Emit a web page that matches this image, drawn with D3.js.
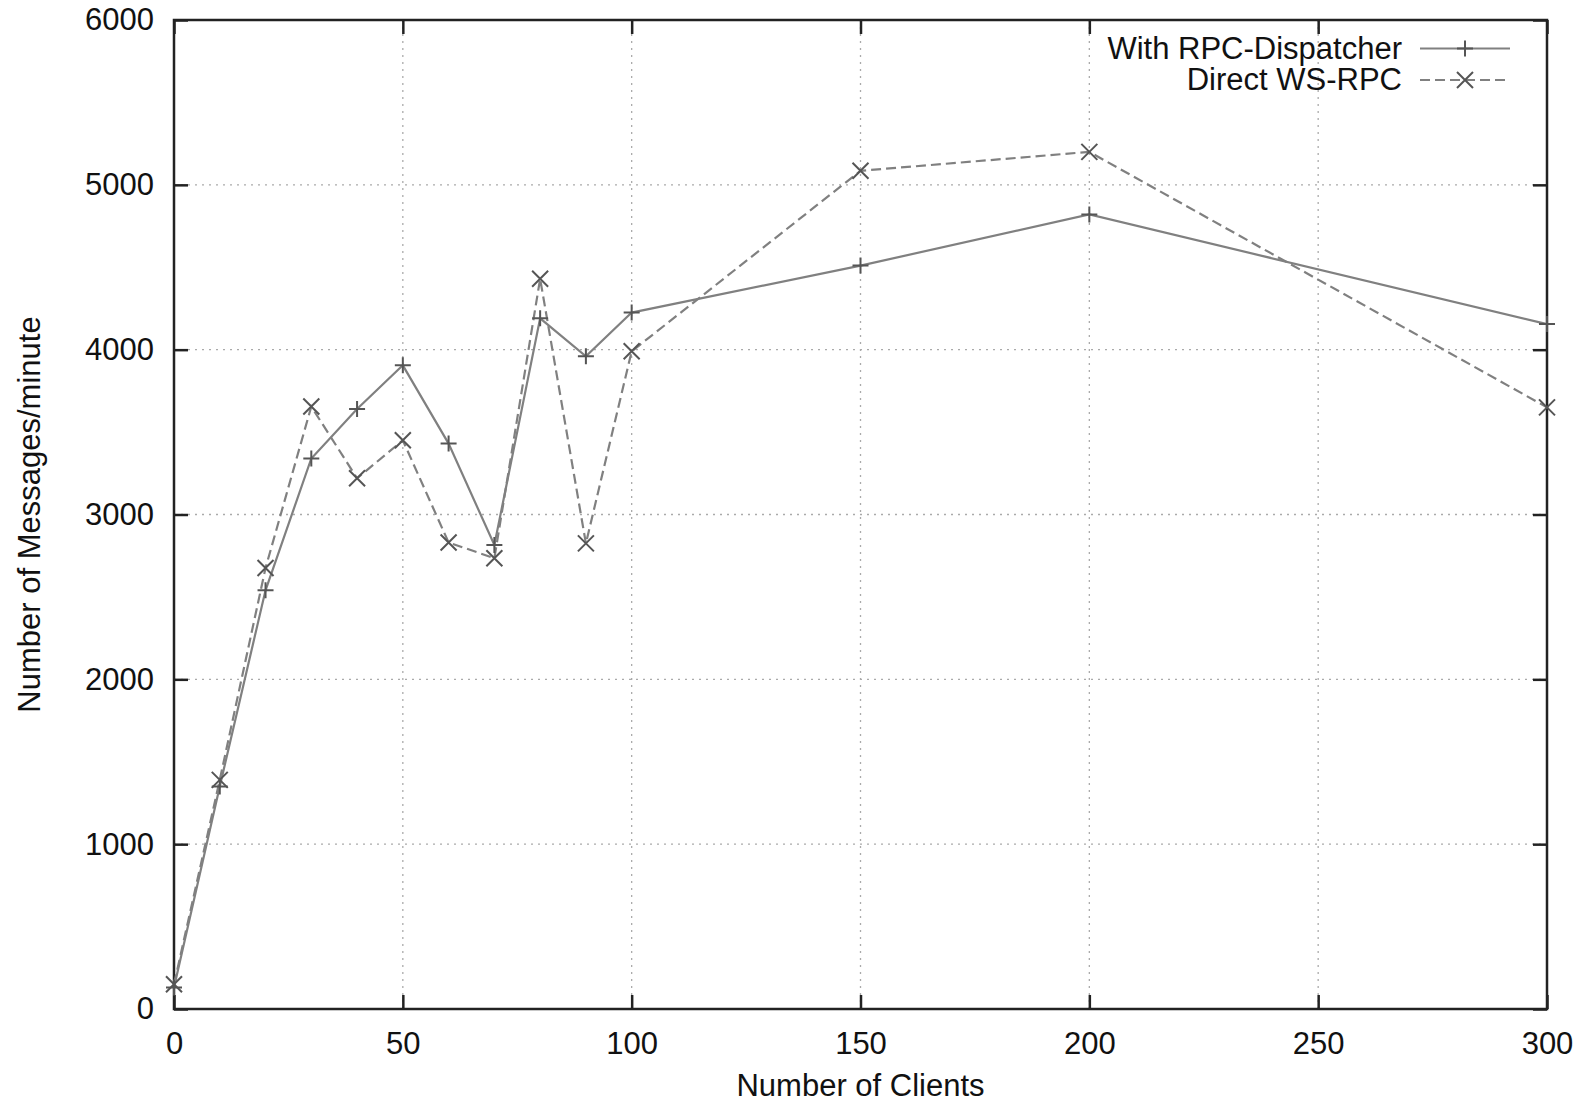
<!DOCTYPE html>
<html>
<head>
<meta charset="utf-8">
<script src="https://cdnjs.cloudflare.com/ajax/libs/d3/7.8.5/d3.min.js"></script>
<style>
  body { margin: 0; background: #fff; }
  svg text { font-family: "Liberation Sans", Arial, Helvetica, sans-serif; fill: #111; }
</style>
</head>
<body>
<div id="chart"></div>
<script>
// data
var clients = [0, 10, 20, 30, 40, 50, 60, 70, 80, 90, 100, 150, 200, 300];
var dispatcher = [130, 1350, 2540, 3340, 3640, 3905, 3430, 2815, 4190, 3960, 4225, 4510, 4820, 4155];
var direct = [150, 1390, 2675, 3655, 3220, 3450, 2830, 2735, 4430, 2825, 3990, 5085, 5200, 3650];
var xTicks = [0, 50, 100, 150, 200, 250, 300];
var yTicks = [0, 1000, 2000, 3000, 4000, 5000, 6000];
var seriesNames = ["With RPC-Dispatcher", "Direct WS-RPC"];

var W = 1585, H = 1105;
// plot box (note: "top" is reserved on window, so use p-prefixed names)
var pLeft = 174, pRight = 1547, pTop = 20, pBottom = 1009;

var svg = d3.select("#chart").append("svg")
  .attr("width", W).attr("height", H);

var x = d3.scaleLinear().domain([0, 300]).range([pLeft, pRight]);
var y = d3.scaleLinear().domain([0, 6000]).range([pBottom, pTop]);

// grid
var grid = svg.append("g").attr("stroke", "#aaa").attr("stroke-width", 1.3)
  .attr("stroke-dasharray", "2,5");
grid.selectAll(".gx").data(xTicks.slice(1, -1)).enter().append("line")
  .attr("x1", d => x(d)).attr("x2", d => x(d)).attr("y1", pTop).attr("y2", pBottom);
grid.selectAll(".gy").data(yTicks.slice(1, -1)).enter().append("line")
  .attr("y1", d => y(d)).attr("y2", d => y(d)).attr("x1", pLeft).attr("x2", pRight);

// axes with inward ticks, mirrored
var tk = 14;
var fs = 31;
var ax = svg.append("g").attr("transform", "translate(0," + pBottom + ")")
  .call(d3.axisBottom(x).tickValues(xTicks).tickSize(-tk).tickPadding(tk + 9));
var ay = svg.append("g").attr("transform", "translate(" + pLeft + ",0)")
  .call(d3.axisLeft(y).tickValues(yTicks).tickSize(-tk).tickPadding(tk + 6).tickFormat(d3.format("d")));
var at = svg.append("g").attr("transform", "translate(0," + pTop + ")")
  .call(d3.axisTop(x).tickValues(xTicks).tickSize(-tk).tickFormat(""));
var ar = svg.append("g").attr("transform", "translate(" + pRight + ",0)")
  .call(d3.axisRight(y).tickValues(yTicks).tickSize(-tk).tickFormat(""));
[ax, ay, at, ar].forEach(function(a) {
  a.select(".domain").remove();
  a.selectAll(".tick line").attr("stroke", "#222").attr("stroke-width", 2.5);
  a.selectAll("text").style("font-size", fs + "px").attr("fill", "#111")
    .style("font-family", "'Liberation Sans', Arial, sans-serif");
});

svg.append("rect").attr("x", pLeft).attr("y", pTop)
  .attr("width", pRight - pLeft).attr("height", pBottom - pTop)
  .attr("fill", "none").attr("stroke", "#222").attr("stroke-width", 2.5);

// axis titles
svg.append("text").attr("x", (pLeft + pRight) / 2).attr("y", 1096)
  .attr("text-anchor", "middle").style("font-size", fs + "px").text("Number of Clients");
svg.append("text").attr("transform", "translate(40," + ((pTop + pBottom) / 2) + ") rotate(-90)")
  .attr("text-anchor", "middle").style("font-size", fs + "px").text("Number of Messages/minute");

// series
var lineColor = "#808080";
var ms = 8;
function plusPath(px, py) {
  return "M" + (px - ms) + "," + py + "H" + (px + ms) + "M" + px + "," + (py - ms) + "V" + (py + ms);
}
function crossPath(px, py) {
  return "M" + (px - ms) + "," + (py - ms) + "L" + (px + ms) + "," + (py + ms) +
    "M" + (px - ms) + "," + (py + ms) + "L" + (px + ms) + "," + (py - ms);
}

var line = d3.line().x(d => x(d[0])).y(d => y(d[1]));
var s1 = clients.map((c, i) => [c, dispatcher[i]]);
var s2 = clients.map((c, i) => [c, direct[i]]);

svg.append("path").datum(s1).attr("d", line).attr("fill", "none")
  .attr("stroke", lineColor).attr("stroke-width", 2.2);
svg.append("path").datum(s2).attr("d", line).attr("fill", "none")
  .attr("stroke", lineColor).attr("stroke-width", 2.2).attr("stroke-dasharray", "10,5");

svg.append("g").selectAll("path").data(s1).enter().append("path")
  .attr("d", d => plusPath(x(d[0]), y(d[1])))
  .attr("stroke", "#555").attr("stroke-width", 2).attr("fill", "none");
svg.append("g").selectAll("path").data(s2).enter().append("path")
  .attr("d", d => crossPath(x(d[0]), y(d[1])))
  .attr("stroke", "#555").attr("stroke-width", 2).attr("fill", "none");

// legend
var leg = svg.append("g");
var legY = [48.5, 80];
seriesNames.forEach(function(name, i) {
  leg.append("text").attr("x", 1402).attr("y", legY[i] + 10)
    .attr("text-anchor", "end").style("font-size", fs + "px").text(name);
  leg.append("line").attr("x1", 1420).attr("x2", 1510)
    .attr("y1", legY[i]).attr("y2", legY[i])
    .attr("stroke", lineColor).attr("stroke-width", 2.2)
    .attr("stroke-dasharray", i === 1 ? "10,5" : null);
  leg.append("path")
    .attr("d", i === 0 ? plusPath(1465, legY[i]) : crossPath(1465, legY[i]))
    .attr("stroke", "#555").attr("stroke-width", 2).attr("fill", "none");
});
</script>
</body>
</html>
